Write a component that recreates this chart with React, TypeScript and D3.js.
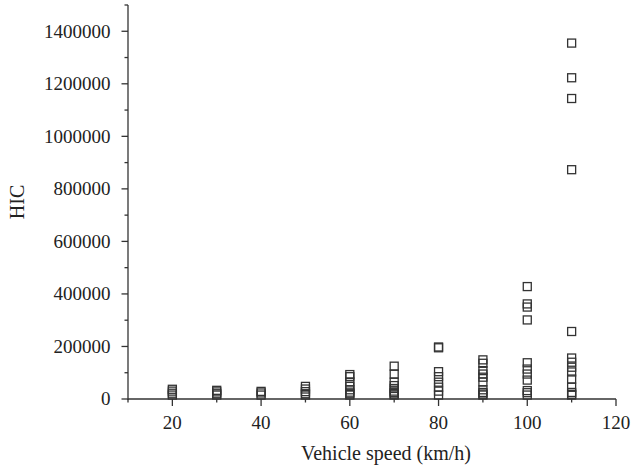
import React from "react";
import * as d3 from "d3";

const speeds = [20, 30, 40, 50, 60, 70, 80, 90, 100, 110];
const hic20 = [37000, 30000, 22000, 15000];
const hic30 = [33000, 27000, 20000, 15000];
const hic40 = [29000, 23000, 15000];
const hic50 = [48000, 38000, 28000, 20000, 15000];
const hic60 = [93000, 85000, 65000, 48000, 35000, 26000, 20000, 15000];
const hic70 = [125000, 95000, 64000, 51000, 40000, 30000, 24000, 19000, 15000];
const hic80 = [198000, 195000, 104000, 85000, 64000, 45000, 30000, 15000];
const hic90 = [149000, 136000, 108000, 95000, 83000, 65000, 35000, 25000, 19000, 15000];
const hic100 = [428000, 362000, 350000, 301000, 138000, 114000, 95000, 72000, 32000, 24000, 15000];
const hic110 = [1355000, 1223000, 1144000, 873000, 257000, 156000, 140000, 121000, 103000, 76000, 45000, 25000, 18000, 15000];
const hicBySpeed = [hic20, hic30, hic40, hic50, hic60, hic70, hic80, hic90, hic100, hic110];

const xMajor = [20, 40, 60, 80, 100, 120];
const xMinor = [10, 30, 50, 70, 90, 110];
const yMajor = [0, 200000, 400000, 600000, 800000, 1000000, 1200000, 1400000];
const yMinor = [100000, 300000, 500000, 700000, 900000, 1100000, 1300000, 1500000];

export default function App() {
  const W = 632, H = 470;
  const x = d3.scaleLinear().domain([10, 120]).range([128, 616]);
  const y = d3.scaleLinear().domain([0, 1500000]).range([399, 5]);
  const ink = "#333";
  const font = "'Liberation Serif', 'Times New Roman', serif";
  const points = speeds.flatMap((s, i) => hicBySpeed[i].map((v) => ({ s, v })));
  const sq = 8;
  return (
    <svg width={W} height={H} style={{ position: "absolute", left: 0, top: 0, background: "#fff" }}>
      <g fontFamily={font} fill="#222">
        <line x1={x(10)} x2={x(120)} y1={y(0)} y2={y(0)} stroke={ink} strokeWidth={1.3} />
        <line x1={x(10)} x2={x(10)} y1={y(0) + 1} y2={y(1500000)} stroke={ink} strokeWidth={1.3} />
        {xMajor.map((t) => (
          <g key={"xm" + t}>
            <line x1={x(t)} x2={x(t)} y1={y(0)} y2={y(0) + 7} stroke={ink} strokeWidth={1.3} />
            <text x={x(t)} y={429} textAnchor="middle" fontSize={19}>{t}</text>
          </g>
        ))}
        {xMinor.map((t) => (
          <line key={"xn" + t} x1={x(t)} x2={x(t)} y1={y(0)} y2={y(0) + 3.5} stroke={ink} strokeWidth={1.3} />
        ))}
        {yMajor.map((t) => (
          <g key={"ym" + t}>
            <line x1={x(10) - 6.5} x2={x(10)} y1={y(t)} y2={y(t)} stroke={ink} strokeWidth={1.3} />
            <text x={110.5} y={y(t)} dy="0.34em" textAnchor="end" fontSize={19}>{t}</text>
          </g>
        ))}
        {yMinor.map((t) => (
          <line key={"yn" + t} x1={x(10) - 3.5} x2={x(10)} y1={y(t)} y2={y(t)} stroke={ink} strokeWidth={1.3} />
        ))}
        <text x={386} y={460} textAnchor="middle" fontSize={20}>Vehicle speed (km/h)</text>
        <text transform={`translate(24,${(y(0) + y(1500000)) / 2}) rotate(-90)`} textAnchor="middle" fontSize={20}>HIC</text>
        {points.map((p, i) => (
          <rect key={i} x={x(p.s) - sq / 2} y={y(p.v) - sq / 2} width={sq} height={sq} fill="none" stroke={ink} strokeWidth={1.3} />
        ))}
      </g>
    </svg>
  );
}
